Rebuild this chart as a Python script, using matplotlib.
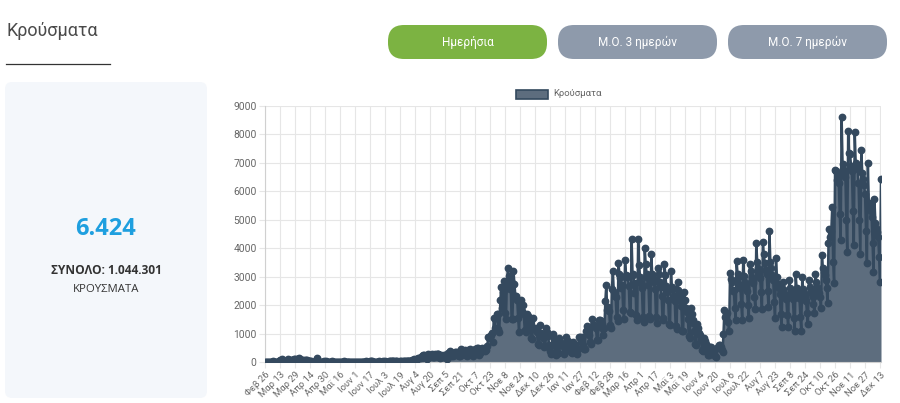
import matplotlib
matplotlib.use("Agg")
import matplotlib.pyplot as plt
from matplotlib.patches import FancyBboxPatch, Rectangle
import pandas as pd

plt.rcParams['font.family'] = ['Roboto', 'DejaVu Sans']

# daily cases, one row per week (Wed .. Tue), from 26 Feb 2020
cases = [
    1, 2, 1, 0, 3, 0, 0,
    2, 22, 14, 14, 5, 11, 16,
    10, 18, 73, 38, 103, 21, 35,
    31, 46, 31, 35, 94, 71, 48,
    78, 71, 74, 95, 95, 56, 102,
    101, 129, 69, 60, 62, 20, 77,
    52, 71, 56, 70, 33, 31, 25,
    22, 15, 17, 11, 0, 10, 156,
    7, 11, 16, 12, 11, 11, 14,
    25, 15, 19, 15, 1, 10, 8,
    11, 18, 14, 6, 3, 10, 7,
    16, 15, 10, 10, 1, 4, 10,
    21, 3, 4, 11, 6, 2, 5,
    10, 15, 7, 1, 9, 1, 1,
    15, 11, 16, 8, 4, 3, 11,
    16, 5, 10, 18, 10, 2, 13,
    28, 20, 49, 12, 10, 9, 13,
    13, 9, 15, 25, 16, 7, 8,
    23, 12, 19, 16, 6, 11, 22,
    31, 34, 21, 23, 19, 14, 26,
    31, 25, 15, 14, 20, 21, 14,
    19, 20, 24, 23, 24, 25, 43,
    45, 43, 40, 77, 28, 110, 32,
    80, 100, 153, 152, 124, 126, 203,
    262, 156, 230, 212, 217, 91, 269,
    194, 200, 206, 284, 163, 168, 293,
    250, 284, 275, 285, 175, 152, 239,
    217, 173, 236, 230, 171, 123, 305,
    274, 372, 200, 290, 245, 202, 326,
    338, 341, 260, 342, 223, 218, 453,
    268, 287, 311, 408, 232, 219, 413,
    380, 371, 459, 368, 264, 194, 343,
    447, 346, 502, 489, 251, 304, 432,
    508, 420, 461, 406, 397, 409, 550,
    865, 882, 841, 935, 1015, 709, 1550,
    1211, 1547, 1690, 1678, 1152, 1059, 2166,
    2646, 1914, 2448, 2835, 1712, 1510, 2752,
    3316, 3038, 2581, 2835, 1498, 1511, 3209,
    2748, 2328, 2311, 2179, 1535, 1044, 2152,
    2186, 1808, 2016, 1677, 1134, 1056, 1673,
    1490, 1622, 1395, 1226, 835, 818, 1541,
    1167, 1193, 1125, 1059, 637, 607, 1290,
    1036, 974, 910, 842, 531, 560, 1201,
    1060, 929, 593, 399, 281, 585, 999,
    801, 635, 262, 521, 326, 300, 840,
    718, 672, 593, 563, 290, 406, 873,
    726, 739, 674, 569, 350, 301, 615,
    714, 616, 589, 442, 283, 457, 880,
    882, 743, 883, 613, 464, 465, 1104,
    1257, 1032, 1112, 946, 686, 644, 1526,
    1287, 1300, 1255, 1180, 757, 765, 1466,
    1467, 1427, 1338, 1167, 960, 1209, 2147,
    2702, 1833, 1922, 1783, 1284, 1192, 2564,
    3215, 2465, 2303, 2271, 1588, 1448, 3465,
    3089, 2964, 2617, 2702, 1831, 1529, 3586,
    3068, 2973, 3007, 2678, 1756, 1717, 4340,
    3087, 3060, 2415, 2791, 1650, 1490, 4309,
    3394, 3005, 2788, 2601, 1583, 1409, 4020,
    3460, 3110, 2950, 2700, 1634, 1495, 3790,
    3090, 2970, 2800, 2570, 1570, 1380, 3310,
    3090, 2830, 2650, 2310, 1530, 1460, 3440,
    3055, 2680, 2470, 2180, 1330, 1310, 3200,
    2630, 2570, 2320, 2130, 1250, 1150, 2800,
    2530, 2320, 2190, 1970, 1090, 1080, 2450,
    2170, 1910, 1760, 1500, 900, 830, 1890,
    1680, 1480, 1360, 1090, 650, 610, 1340,
    1200, 1010, 940, 780, 430, 400, 830,
    750, 620, 560, 480, 260, 250, 540,
    520, 430, 410, 340, 220, 190, 480,
    540, 600, 590, 520, 410, 340, 1000,
    1830, 1570, 1680, 1740, 1410, 1080, 3140,
    2920, 2800, 2490, 2530, 1900, 1470, 3550,
    3100, 2950, 2730, 2600, 2050, 1470, 3580,
    3010, 2830, 2640, 2480, 2000, 1530, 3440,
    3200, 3000, 2850, 2780, 2300, 1850, 4200,
    3500, 3300, 3120, 2970, 2450, 1850, 4230,
    3800, 3480, 3250, 3100, 2500, 1940, 4600,
    3500, 3300, 3050, 2900, 2100, 1530, 3640,
    2980, 2750, 2600, 2400, 1700, 1240, 2830,
    2550, 2430, 2300, 2200, 1650, 1240, 2900,
    2600, 2450, 2380, 2200, 1550, 1100, 3080,
    2600, 2500, 2350, 2250, 1580, 1100, 2980,
    2550, 2430, 2320, 2150, 1720, 1330, 2880,
    2620, 2480, 2410, 2300, 2050, 1710, 3090,
    2800, 2650, 2560, 2440, 2300, 1900, 3760,
    3300, 3150, 3060, 2870, 2600, 2080, 4170,
    4690, 4400, 4620, 5450, 3500, 2760, 6740,
    6700, 6400, 6600, 6300, 5200, 4280, 8610,
    6970, 6800, 6650, 6500, 5000, 3870, 8120,
    7350, 7330, 6900, 6700, 5300, 4110, 8080,
    7000, 6900, 6800, 6300, 5000, 3790, 7470,
    6650, 6450, 6240, 5900, 4600, 3490, 7000,
    5600, 5500, 5300, 5100, 4200, 3170, 5720,
    4900, 4720, 4560, 4400, 3700, 2820, 6424,
]
start_date = "2020-02-26"
greek_months = ["Ιαν", "Φεβ", "Μαρ", "Απρ", "Μαϊ", "Ιουν",
                "Ιουλ", "Αυγ", "Σεπ", "Οκτ", "Νοε", "Δεκ"]
tick_step = 16
y_ticks = [0, 1000, 2000, 3000, 4000, 5000, 6000, 7000, 8000, 9000]

latest = "6.424"
total = "ΣΥΝΟΛΟ: 1.044.301"
buttons = ["Ημερήσια", "Μ.Ο. 3 ημερών", "Μ.Ο. 7 ημερών"]

dates = pd.date_range(start_date, periods=len(cases), freq="D")
labels = [f"{greek_months[d.month - 1]} {d.day}" for d in dates]
x = list(range(len(cases)))

W, H = 900, 403
fig = plt.figure(figsize=(W / 100, H / 100), dpi=100)

line_col = "#34495e"
fill_col = "#5d6d7e"

ax = fig.add_axes([265 / W, 1 - 362 / H, (881 - 265) / W, (362 - 106) / H])
ax.fill_between(x, cases, 0, color=fill_col, lw=0, zorder=2)
ax.plot(x, cases, color=line_col, lw=1.8, marker="o", ms=4.6,
        mfc=line_col, mec=line_col, zorder=3)
ax.set_xlim(0, len(cases) - 1)
ax.set_ylim(0, 9000)
ax.set_yticks(y_ticks)
ax.set_yticklabels([str(v) for v in y_ticks])
ticks = x[::tick_step]
ax.set_xticks(ticks)
ax.set_xticklabels([labels[i] for i in ticks], rotation=45, ha="right",
                   rotation_mode="anchor")
ax.grid(True, color="#e6e6e6", lw=0.8, zorder=0)
ax.set_axisbelow(True)
for s in ["top", "right"]:
    ax.spines[s].set_visible(False)
ax.spines["left"].set_color("#d0d0d0")
ax.spines["bottom"].set_color("#d0d0d0")
ax.tick_params(axis="both", length=4, color="#e6e6e6", labelcolor="#666666")
ax.tick_params(axis="y", labelsize=7.4, pad=2)
ax.tick_params(axis="x", labelsize=6.8, pad=2)

# page decoration in pixel coordinates
ov = fig.add_axes([0, 0, 1, 1], zorder=-1)
ov.set_xlim(0, W)
ov.set_ylim(H, 0)
ov.axis("off")

ov.text(6, 31, "Κρούσματα", fontsize=13, color="#4a4a4a",
        va="center", ha="left")
ov.plot([6, 110], [64, 64], color="#333333", lw=0.9)

pill_x = [388, 558, 728]
pill_col = ["#7cb342", "#8e9aab", "#8e9aab"]
for px, col, txt in zip(pill_x, pill_col, buttons):
    ov.add_patch(FancyBboxPatch((px, 25), 159, 34,
                                boxstyle="round,pad=0,rounding_size=16",
                                fc=col, ec="none"))
    ov.text(px + 79.5, 42.5, txt, fontsize=8.5, color="white",
            ha="center", va="center")

ov.add_patch(FancyBboxPatch((5, 82), 202, 316,
                            boxstyle="round,pad=0,rounding_size=7",
                            fc="#f4f7fb", ec="none"))
ov.text(106, 229, latest, fontsize=17, fontweight="bold", color="#1e9fdf",
        ha="center", va="center", family="Open Sans")
ov.text(106, 271, total, fontsize=8.6, fontweight="bold", color="#333333",
        ha="center", va="center", family="Open Sans")
ov.text(106, 289, "ΚΡΟΥΣΜΑΤΑ", fontsize=8.2, color="#333333",
        ha="center", va="center", family="Open Sans")

# legend
ov.add_patch(Rectangle((516, 89.5), 32, 9.5, fc=fill_col, ec=line_col, lw=1.2))
ov.text(553, 94, "Κρούσματα", fontsize=6.8, color="#666666",
        ha="left", va="center")

fig.savefig("out.png", dpi=100)
